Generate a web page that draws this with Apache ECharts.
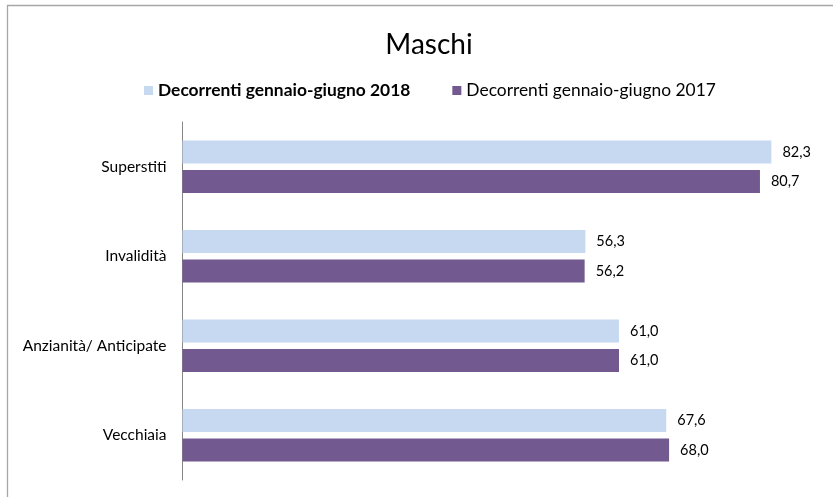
<!DOCTYPE html>
<html>
<head>
<meta charset="utf-8">
<script src="https://cdn.jsdelivr.net/npm/echarts@6/dist/echarts.min.js"></script>
<style>
  html, body { margin: 0; padding: 0; background: #fff; }
  #chart { width: 833px; height: 497px; }
</style>
</head>
<body>
<div id="chart"></div>
<script>
// Pension categories, top to bottom
const categories = ['Superstiti', 'Invalidità', 'Anzianità/ Anticipate', 'Vecchiaia'];
const seriesNames = ['Decorrenti gennaio-giugno 2018', 'Decorrenti gennaio-giugno 2017'];
const values2018 = [82.3, 56.3, 61.0, 67.6];
const values2017 = [80.7, 56.2, 61.0, 68.0];

const FONT = 'Lato, "Open Sans", sans-serif';
const fmt = v => v.toFixed(1).replace('.', ',');

const chart = echarts.init(document.getElementById('chart'), null, { renderer: 'canvas' });

chart.setOption({
  backgroundColor: '#ffffff',
  animation: false,
  textStyle: { fontFamily: FONT },
  title: {
    text: 'Maschi',
    left: 424,
    top: 26,
    textAlign: 'center',
    textStyle: { fontFamily: FONT, fontSize: 28, fontWeight: 'normal', color: '#000' }
  },
  legend: {
    left: 139,
    top: 77,
    icon: 'rect',
    itemWidth: 9,
    itemHeight: 9,
    itemGap: 42,
    data: seriesNames,
    formatter: name => name === seriesNames[0] ? '{b|' + name + '}' : name,
    textStyle: {
      fontFamily: FONT, fontSize: 17.4, color: '#000',
      rich: { b: { fontFamily: FONT, fontSize: 17.4, fontWeight: 'bold', color: '#000' } }
    }
  },
  graphic: [{
    type: 'rect',
    shape: { x: 7.5, y: 5.5, width: 840, height: 500 },
    style: { fill: 'none', stroke: '#a6a6a6', lineWidth: 1.3 },
    silent: true,
    z: -1
  }],
  grid: { left: 182.5, top: 122, width: 644, height: 358, containLabel: false },
  xAxis: {
    type: 'value',
    min: 0,
    max: 90,
    show: false
  },
  yAxis: {
    type: 'category',
    inverse: true,
    data: categories,
    axisLine: { show: true, lineStyle: { color: '#868686', width: 1 } },
    axisTick: { show: false },
    axisLabel: { fontFamily: FONT, fontSize: 15.5, color: '#000', margin: 16 }
  },
  series: [
    {
      name: seriesNames[0],
      type: 'bar',
      data: values2018,
      barWidth: 23,
      barGap: '29%',
      itemStyle: { color: '#c6d9f1' },
      label: { show: true, position: 'right', distance: 11, fontFamily: FONT, fontSize: 14.5, color: '#000', formatter: p => fmt(p.value) }
    },
    {
      name: seriesNames[1],
      type: 'bar',
      data: values2017,
      barWidth: 23,
      barGap: '29%',
      itemStyle: { color: '#72598f' },
      label: { show: true, position: 'right', distance: 11, fontFamily: FONT, fontSize: 14.5, color: '#000', formatter: p => fmt(p.value) }
    }
  ]
});
</script>
</body>
</html>
